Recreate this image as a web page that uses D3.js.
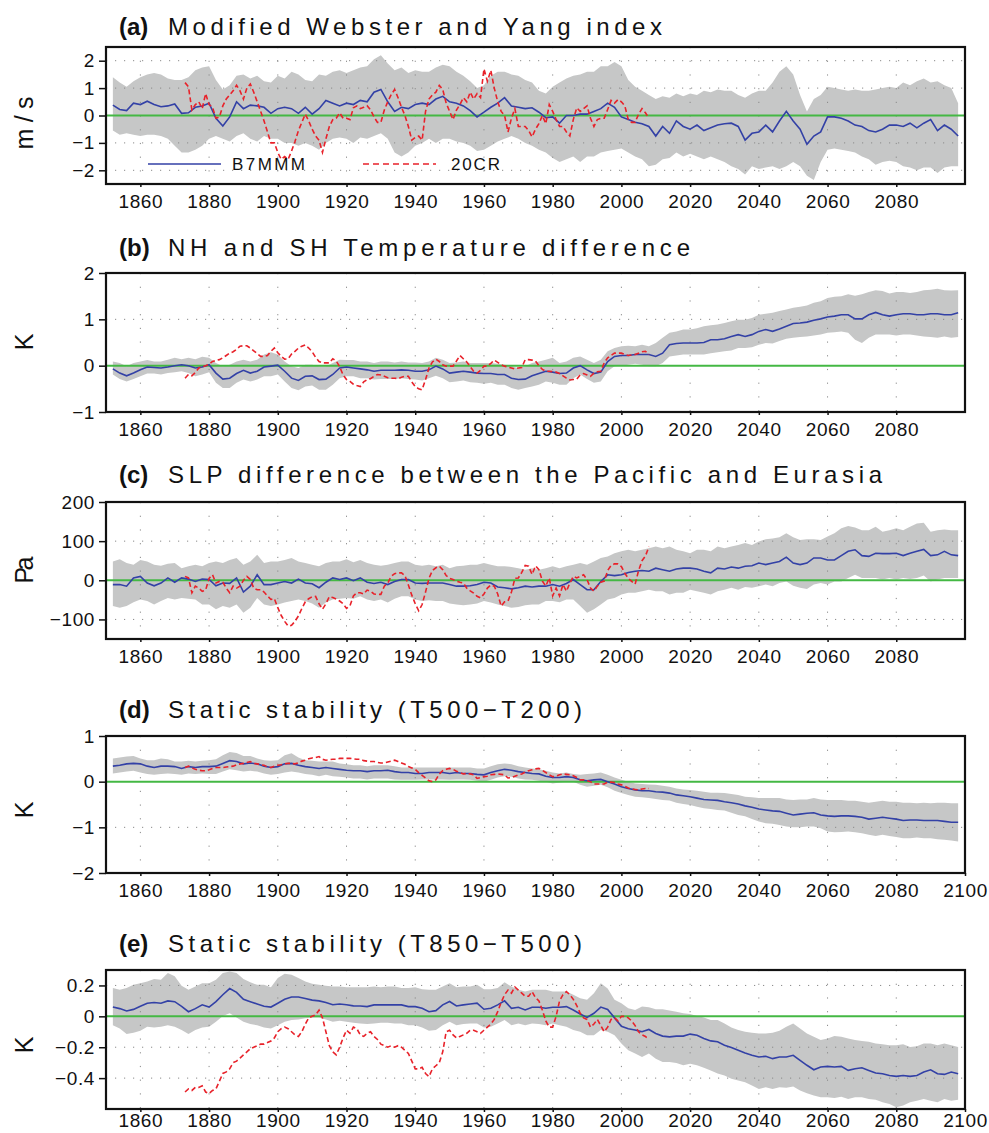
<!DOCTYPE html>
<html><head><meta charset="utf-8">
<script src="https://cdn.jsdelivr.net/npm/d3@7"></script>
<style>body{margin:0;background:#fff}text{font-family:"Liberation Sans",Arial,sans-serif}</style>
</head><body>
<svg id="c" width="989" height="1133"></svg>
<script>
// ---------------- DATA ----------------
const modelYears = d3.range(1852, 2099, 2);   // B7MMM ensemble (2-yr sampling)
const obsYears = d3.range(1873, 2009);        // 20CR

const xTicksShort = [1860,1880,1900,1920,1940,1960,1980,2000,2020,2040,2060,2080];
const xTicksLong  = [1860,1880,1900,1920,1940,1960,1980,2000,2020,2040,2060,2080,2100];

// (a) Modified Webster and Yang index (m/s)
const aMean = [0.38,0.22,0.18,0.45,0.4,0.52,0.4,0.32,0.35,0.42,
 0.08,0.1,0.3,0.35,0.45,-0.1,-0.38,-0.05,0.5,0.25,
 0.38,0.35,0.3,0.08,0.25,0.3,0.25,0.08,0.3,0.05,
 0.25,0.55,0.45,0.35,0.45,0.4,0.55,0.5,0.85,0.95,
 0.5,0.15,0.3,0.25,0.4,0.45,0.4,0.6,0.7,0.5,
 0.45,0.35,0.18,-0.05,0.12,0.3,0.45,0.65,0.35,0.3,
 0.25,0.28,0.12,-0.08,-0.05,-0.28,0.0,0.0,0.05,0.05,
 0.15,0.25,0.45,0.3,-0.05,-0.15,-0.25,-0.3,-0.4,-0.75,
 -0.4,-0.65,-0.2,-0.4,-0.5,-0.35,-0.55,-0.45,-0.35,-0.3,
 -0.28,-0.4,-0.9,-0.65,-0.6,-0.35,-0.6,-0.2,0.15,-0.2,
 -0.5,-1.05,-0.75,-0.6,-0.05,-0.05,-0.1,-0.2,-0.35,-0.4,
 -0.55,-0.6,-0.5,-0.35,-0.35,-0.4,-0.28,-0.45,-0.28,-0.15,
 -0.55,-0.35,-0.5,-0.75];
const aUpper = [1.4,1.2,1.05,1.25,1.4,1.5,1.55,1.5,1.35,1.3,
 1.3,1.4,1.65,1.75,1.8,1.3,0.95,1.1,1.45,1.5,
 1.35,1.45,1.25,1.2,1.45,1.35,1.6,1.5,1.3,1.25,
 1.5,1.45,1.6,1.65,1.55,1.65,1.75,1.8,2.05,2.2,
 1.9,1.65,1.75,1.55,1.65,1.6,1.6,1.75,1.85,1.8,
 1.6,1.45,1.25,1.0,1.1,1.45,1.6,1.6,1.5,1.45,
 1.3,1.2,0.9,0.8,1.05,1.2,1.35,1.45,1.5,1.6,
 1.6,1.8,1.8,1.95,1.8,1.3,1.05,0.9,0.75,0.6,
 0.7,0.65,0.8,0.7,0.8,0.75,0.9,0.85,0.95,0.9,
 0.9,0.75,0.65,0.8,0.9,0.9,1.2,1.6,1.8,1.5,
 0.75,0.15,0.6,0.75,1.05,1.0,0.95,0.9,0.95,0.9,
 0.9,0.95,1.0,1.05,1.0,1.2,1.1,1.25,1.35,1.2,
 1.25,1.1,1.0,0.45];
const aLower = [-0.55,-0.7,-0.65,-0.7,-0.75,-0.7,-0.7,-0.75,-0.85,-1.1,
 -1.35,-1.35,-1.25,-1.1,-0.85,-0.75,-0.85,-0.95,-0.75,-0.65,
 -0.85,-0.95,-0.75,-0.85,-0.85,-1.0,-1.0,-1.1,-1.0,-1.1,
 -1.25,-1.0,-0.85,-0.8,-0.85,-1.0,-0.8,-0.85,-0.75,-0.65,
 -0.85,-1.35,-1.5,-1.35,-1.1,-1.0,-0.85,-1.0,-0.85,-0.85,
 -0.95,-1.0,-1.1,-1.3,-1.25,-1.1,-0.95,-0.85,-0.75,-0.85,
 -1.0,-1.1,-1.25,-1.35,-1.55,-1.7,-1.6,-1.5,-1.7,-1.5,
 -1.5,-1.35,-1.3,-1.25,-1.2,-1.35,-1.5,-1.6,-1.85,-1.8,
 -1.6,-1.55,-1.35,-1.5,-1.4,-1.5,-1.6,-1.5,-1.6,-1.7,
 -1.85,-1.95,-2.15,-1.85,-1.95,-1.9,-1.85,-1.95,-1.85,-1.7,
 -1.85,-2.2,-2.35,-1.7,-1.25,-1.2,-1.25,-1.3,-1.35,-1.5,
 -1.6,-1.8,-1.7,-1.65,-1.7,-1.85,-1.9,-2.0,-1.9,-1.9,
 -2.1,-1.9,-1.85,-1.85];
const aObs = [1.2,1.05,0.2,0.4,0.5,0.25,0.8,0.4,0.3,-0.1,
 -0.05,0.35,0.6,0.75,0.9,1.1,0.9,0.6,1.0,1.15,
 0.85,0.5,0.15,-0.2,-0.6,-1.0,-1.0,-1.35,-1.6,-1.5,
 -1.6,-1.3,-0.95,-0.55,-0.25,0.05,-0.2,-0.5,-0.75,-0.9,
 -1.35,-0.85,-0.4,-0.15,-0.1,0.1,-0.1,-0.1,-0.15,0.28,
 0.35,0.25,0.3,0.36,0.2,-0.05,-0.25,-0.25,0.2,0.5,
 0.76,0.95,0.65,0.3,0.0,-0.4,-0.9,-0.8,-0.75,-0.9,
 0.15,0.6,0.75,0.85,1.1,0.95,0.45,0.15,-0.15,0.2,
 0.4,0.65,0.5,0.85,0.6,0.8,0.65,1.7,1.25,1.65,
 1.0,0.5,0.15,0.0,-0.6,-0.1,0.25,-0.4,-0.4,-0.4,
 -0.55,-0.78,-0.5,-0.3,0.0,-0.3,0.4,0.15,-0.15,-0.4,
 -0.4,-0.6,-0.75,-0.15,0.28,0.15,0.25,0.35,-0.1,-0.4,
 -0.15,-0.1,-0.1,0.22,0.55,0.45,0.58,0.5,0.35,-0.15,
 -0.25,-0.25,0.05,0.25,0.1,-0.1];

// (b) NH and SH temperature difference (K)
const bMean = [-0.07,-0.16,-0.22,-0.16,-0.09,-0.03,-0.04,-0.05,-0.03,0.0,
 0.02,0.0,-0.05,-0.03,0.02,-0.16,-0.29,-0.27,-0.17,-0.1,
 -0.16,-0.12,-0.03,-0.01,0.01,-0.12,-0.27,-0.32,-0.23,-0.22,
 -0.3,-0.29,-0.19,-0.05,-0.03,-0.05,-0.07,-0.09,-0.12,-0.1,
 -0.1,-0.1,-0.09,-0.1,-0.12,-0.12,-0.09,-0.01,-0.07,-0.16,
 -0.14,-0.12,-0.14,-0.16,-0.17,-0.17,-0.19,-0.19,-0.27,-0.3,
 -0.29,-0.22,-0.17,-0.12,-0.14,-0.17,-0.16,-0.05,0.0,-0.09,
 -0.17,-0.14,0.09,0.2,0.22,0.22,0.24,0.24,0.24,0.2,
 0.27,0.45,0.48,0.49,0.49,0.49,0.5,0.56,0.56,0.58,
 0.63,0.67,0.63,0.67,0.74,0.78,0.74,0.79,0.85,0.91,
 0.92,0.94,0.98,1.01,1.05,1.07,1.1,1.1,1.01,1.01,
 1.1,1.15,1.1,1.07,1.1,1.12,1.12,1.1,1.1,1.12,
 1.12,1.1,1.1,1.14];
const bUpper = [0.09,0.06,-0.01,0.06,0.09,0.12,0.09,0.09,0.13,0.17,
 0.14,0.17,0.14,0.19,0.17,0.06,-0.01,0.02,0.09,0.13,
 0.09,0.13,0.24,0.29,0.24,0.09,-0.01,-0.05,0.02,0.02,
 -0.01,-0.01,0.06,0.13,0.12,0.12,0.09,0.09,0.06,0.09,
 0.09,0.07,0.09,0.07,0.07,0.06,0.09,0.17,0.13,0.06,
 0.07,0.09,0.06,0.06,0.06,0.06,0.04,0.02,-0.01,-0.05,
 -0.01,0.06,0.09,0.13,0.17,0.06,0.09,0.17,0.2,0.13,
 0.06,0.13,0.31,0.38,0.42,0.43,0.42,0.45,0.42,0.49,
 0.6,0.71,0.74,0.78,0.78,0.81,0.85,0.87,0.89,0.92,
 0.96,0.99,0.99,1.03,1.1,1.12,1.14,1.18,1.21,1.25,
 1.27,1.3,1.36,1.39,1.46,1.49,1.5,1.54,1.51,1.54,
 1.59,1.63,1.61,1.56,1.59,1.59,1.57,1.59,1.63,1.64,
 1.66,1.63,1.62,1.63];
const bLower = [-0.19,-0.29,-0.34,-0.29,-0.23,-0.17,-0.17,-0.19,-0.16,-0.14,
 -0.12,-0.16,-0.23,-0.19,-0.14,-0.37,-0.48,-0.48,-0.37,-0.3,
 -0.34,-0.3,-0.23,-0.23,-0.19,-0.34,-0.48,-0.53,-0.45,-0.43,
 -0.52,-0.52,-0.41,-0.27,-0.23,-0.23,-0.27,-0.27,-0.3,-0.29,
 -0.29,-0.29,-0.27,-0.29,-0.3,-0.32,-0.27,-0.22,-0.27,-0.36,
 -0.34,-0.32,-0.36,-0.37,-0.39,-0.37,-0.41,-0.41,-0.48,-0.52,
 -0.48,-0.45,-0.41,-0.34,-0.37,-0.41,-0.41,-0.27,-0.19,-0.29,
 -0.37,-0.34,-0.12,-0.01,0.0,0.02,0.04,0.02,-0.01,-0.01,
 0.06,0.2,0.22,0.24,0.24,0.24,0.24,0.27,0.29,0.31,
 0.33,0.38,0.38,0.4,0.45,0.49,0.48,0.53,0.58,0.6,
 0.62,0.63,0.65,0.67,0.71,0.72,0.74,0.71,0.56,0.49,
 0.6,0.67,0.67,0.67,0.65,0.67,0.67,0.65,0.63,0.62,
 0.6,0.63,0.6,0.62];
const bObs = [-0.27,-0.19,-0.22,-0.15,-0.05,-0.03,0.0,0.03,0.09,0.11,
 0.13,0.17,0.22,0.27,0.3,0.35,0.42,0.43,0.43,0.38,
 0.32,0.26,0.2,0.2,0.22,0.31,0.38,0.28,0.2,0.14,
 0.15,0.25,0.31,0.38,0.42,0.45,0.38,0.3,0.18,0.09,
 0.06,0.06,0.06,0.15,0.1,-0.02,-0.2,-0.3,-0.34,-0.4,
 -0.43,-0.45,-0.35,-0.3,-0.28,-0.23,-0.19,-0.2,-0.23,-0.26,
 -0.27,-0.27,-0.28,-0.25,-0.23,-0.23,-0.35,-0.45,-0.5,-0.52,
 -0.3,-0.05,0.08,0.14,0.09,0.02,-0.01,-0.01,-0.01,0.1,
 0.22,0.15,0.08,-0.02,-0.12,-0.16,-0.1,-0.01,-0.01,0.05,
 0.12,0.07,0.02,-0.01,-0.03,-0.05,-0.07,-0.05,-0.04,0.13,
 0.13,0.12,0.1,0.0,-0.08,-0.12,-0.12,-0.13,-0.14,-0.17,
 -0.22,-0.27,-0.31,-0.3,-0.29,-0.2,-0.17,-0.2,-0.23,-0.16,
 -0.13,-0.12,0.06,0.17,0.22,0.27,0.27,0.27,0.24,0.22,
 0.23,0.24,0.27,0.3,0.31,0.24];

// (c) SLP difference between the Pacific and Eurasia (Pa)
const cMean = [-11,-11,-15,6,10,-7,-14,-7,6,-5,
 6,3,-3,3,2,-14,-7,-8,6,-30,
 -15,14,-11,-11,-7,-3,-7,3,-7,-9,
 -19,-5,6,2,6,-1,6,-5,-8,-5,
 -11,-3,2,2,-7,-8,-7,-7,-7,-11,
 -15,-15,-14,-11,-5,-7,-17,-19,-22,-19,
 -15,-17,-15,-15,-11,-15,-8,2,-11,-24,
 -24,-3,14,12,14,20,23,25,23,31,
 27,23,29,31,31,29,23,19,31,29,
 34,31,36,37,44,40,44,48,59,44,
 40,44,57,57,52,52,63,74,78,63,
 61,69,68,68,69,63,69,74,79,63,
 65,74,65,63];
const cUpper = [48,54,44,40,52,48,40,37,42,44,
 31,36,40,36,44,48,44,52,57,40,
 48,65,44,48,48,52,57,48,44,40,
 36,44,48,48,54,46,52,44,40,37,
 40,44,48,48,40,37,40,36,40,31,
 36,37,40,40,44,40,36,36,34,31,
 27,31,27,31,36,31,36,40,44,40,
 48,57,61,69,74,78,74,78,82,86,
 82,86,78,74,69,78,78,74,86,82,
 86,90,95,90,99,105,107,110,120,110,
 103,105,105,103,112,120,133,139,135,128,
 128,137,124,128,133,128,137,145,147,124,
 128,130,128,128];
const cLower = [-66,-70,-66,-56,-49,-53,-62,-53,-45,-49,
 -45,-47,-49,-62,-62,-74,-66,-70,-62,-83,
 -70,-45,-62,-66,-62,-57,-53,-49,-53,-59,
 -70,-57,-49,-47,-45,-47,-41,-49,-53,-49,
 -57,-47,-41,-41,-49,-53,-51,-53,-53,-59,
 -62,-64,-62,-59,-53,-57,-62,-66,-70,-68,
 -64,-62,-62,-53,-53,-56,-49,-49,-66,-83,
 -74,-62,-49,-45,-36,-32,-32,-28,-24,-28,
 -28,-36,-32,-32,-24,-28,-32,-36,-28,-24,
 -19,-24,-17,-19,-15,-11,-15,-7,-3,-14,
 -19,-22,-11,-7,-11,-3,-3,6,14,6,
 6,6,2,6,2,6,3,6,12,-3,
 2,6,6,6];
const cObs = [10,6,-32,-15,-20,-28,-25,5,14,-7,
 -3,-5,-20,-32,-15,-20,-15,0,10,2,
 -20,-24,-24,-30,-40,-49,-47,-70,-90,-105,
 -117,-115,-105,-91,-72,-55,-47,-42,-41,-60,
 -74,-60,-42,-44,-48,-53,-60,-72,-65,-40,
 -32,-32,-35,-25,-28,-35,-36,-36,-15,-7,
 10,17,19,19,12,-12,-38,-60,-78,-62,
 -30,5,25,32,36,27,12,5,2,-2,
 -5,-7,-20,-27,-33,-41,-45,-35,-20,-12,
 -15,-35,-66,-55,-53,-30,5,6,20,38,
 36,15,37,27,-2,-15,6,-40,-20,-40,
 -11,-28,-7,10,6,10,14,2,-20,-28,
 -15,-5,-2,25,38,42,42,35,18,5,
 -3,-10,25,50,62,86];

// (d) Static stability (T500-T200) (K)
const dMean = [0.34,0.36,0.39,0.4,0.39,0.34,0.31,0.34,0.34,0.33,
 0.29,0.33,0.31,0.33,0.33,0.34,0.4,0.46,0.44,0.39,
 0.41,0.39,0.34,0.31,0.33,0.39,0.4,0.36,0.33,0.31,
 0.29,0.31,0.29,0.27,0.25,0.24,0.24,0.22,0.24,0.24,
 0.25,0.22,0.2,0.2,0.18,0.18,0.2,0.2,0.2,0.18,
 0.2,0.18,0.18,0.16,0.15,0.2,0.24,0.27,0.25,0.22,
 0.2,0.18,0.17,0.12,0.09,0.09,0.11,0.09,0.04,0.02,
 0.04,0.05,0.0,-0.05,-0.11,-0.15,-0.18,-0.2,-0.2,-0.22,
 -0.23,-0.25,-0.29,-0.31,-0.33,-0.36,-0.39,-0.4,-0.41,-0.44,
 -0.46,-0.49,-0.53,-0.56,-0.6,-0.62,-0.64,-0.65,-0.69,-0.73,
 -0.71,-0.69,-0.68,-0.73,-0.75,-0.76,-0.75,-0.75,-0.76,-0.78,
 -0.82,-0.8,-0.78,-0.8,-0.82,-0.85,-0.84,-0.84,-0.85,-0.85,
 -0.85,-0.87,-0.89,-0.89];
const dUpper = [0.51,0.53,0.55,0.56,0.51,0.47,0.47,0.51,0.49,0.44,
 0.44,0.46,0.44,0.46,0.47,0.49,0.58,0.65,0.63,0.56,
 0.56,0.51,0.47,0.46,0.47,0.58,0.62,0.53,0.47,0.46,
 0.44,0.44,0.44,0.4,0.38,0.36,0.36,0.34,0.36,0.36,
 0.36,0.34,0.31,0.31,0.31,0.31,0.31,0.31,0.31,0.31,
 0.31,0.31,0.31,0.29,0.29,0.34,0.38,0.4,0.38,0.34,
 0.31,0.29,0.27,0.24,0.2,0.18,0.2,0.17,0.15,0.17,
 0.18,0.2,0.15,0.09,0.04,0.0,-0.04,-0.05,-0.06,-0.07,
 -0.09,-0.11,-0.15,-0.17,-0.18,-0.2,-0.22,-0.24,-0.24,-0.25,
 -0.27,-0.29,-0.33,-0.34,-0.36,-0.36,-0.36,-0.36,-0.39,-0.4,
 -0.39,-0.39,-0.36,-0.39,-0.4,-0.4,-0.4,-0.42,-0.42,-0.44,
 -0.46,-0.44,-0.42,-0.44,-0.44,-0.46,-0.46,-0.47,-0.46,-0.47,
 -0.46,-0.46,-0.47,-0.47];
const dLower = [0.18,0.2,0.22,0.24,0.2,0.17,0.15,0.17,0.18,0.17,
 0.15,0.18,0.17,0.18,0.17,0.17,0.22,0.27,0.25,0.22,
 0.24,0.22,0.18,0.15,0.17,0.2,0.22,0.2,0.17,0.15,
 0.12,0.15,0.12,0.11,0.09,0.07,0.07,0.05,0.07,0.07,
 0.07,0.05,0.04,0.04,0.04,0.05,0.05,0.05,0.05,0.04,
 0.05,0.05,0.04,0.02,0.0,0.04,0.09,0.12,0.11,0.07,
 0.05,0.04,0.02,0.0,-0.04,-0.02,0.0,0.0,-0.07,-0.11,
 -0.09,-0.07,-0.12,-0.2,-0.25,-0.29,-0.33,-0.34,-0.36,-0.38,
 -0.4,-0.41,-0.46,-0.49,-0.51,-0.55,-0.58,-0.6,-0.62,-0.63,
 -0.68,-0.73,-0.76,-0.82,-0.87,-0.91,-0.92,-0.95,-0.98,-1.0,
 -1.0,-0.98,-0.98,-1.02,-1.09,-1.11,-1.1,-1.09,-1.11,-1.13,
 -1.16,-1.19,-1.16,-1.19,-1.21,-1.24,-1.24,-1.22,-1.24,-1.24,
 -1.26,-1.27,-1.29,-1.31];
const dObs = [0.31,0.34,0.3,0.27,0.25,0.24,0.24,0.26,0.29,0.31,
 0.31,0.31,0.32,0.33,0.34,0.37,0.39,0.4,0.42,0.44,
 0.4,0.39,0.37,0.36,0.32,0.31,0.34,0.36,0.37,0.39,
 0.4,0.4,0.39,0.41,0.45,0.47,0.5,0.52,0.53,0.55,
 0.49,0.47,0.48,0.49,0.49,0.51,0.51,0.51,0.51,0.5,
 0.49,0.49,0.46,0.45,0.44,0.44,0.42,0.41,0.41,0.43,
 0.45,0.47,0.44,0.41,0.38,0.33,0.3,0.27,0.2,0.14,
 0.08,0.02,0.0,0.04,0.17,0.24,0.27,0.29,0.27,0.23,
 0.2,0.17,0.18,0.17,0.15,0.07,0.09,0.11,0.12,0.15,
 0.16,0.17,0.16,0.15,0.08,0.09,0.12,0.15,0.17,0.21,
 0.24,0.26,0.28,0.29,0.25,0.2,0.15,0.11,0.12,0.15,
 0.17,0.16,0.15,0.13,0.09,0.04,0.04,0.02,0.0,-0.05,
 -0.05,-0.05,-0.05,-0.01,-0.01,-0.02,-0.05,-0.07,-0.1,-0.14,
 -0.16,-0.17,-0.18,-0.16,-0.15,-0.15];

// (e) Static stability (T850-T500) (K)
const eMean = [0.06,0.05,0.035,0.045,0.065,0.085,0.09,0.085,0.1,0.095,
 0.065,0.03,0.05,0.075,0.06,0.095,0.14,0.18,0.155,0.11,
 0.095,0.08,0.065,0.06,0.085,0.11,0.125,0.125,0.115,0.105,
 0.1,0.09,0.075,0.08,0.075,0.068,0.067,0.063,0.074,0.074,
 0.074,0.074,0.074,0.063,0.063,0.052,0.03,0.037,0.074,0.096,
 0.067,0.074,0.08,0.085,0.046,0.052,0.074,0.1,0.052,0.059,
 0.041,0.059,0.059,0.052,0.059,0.059,0.063,0.041,0.015,-0.007,
 0.02,0.06,0.045,-0.01,-0.065,-0.08,-0.089,-0.1,-0.085,-0.111,
 -0.128,-0.133,-0.128,-0.128,-0.115,-0.122,-0.143,-0.159,-0.165,-0.187,
 -0.202,-0.22,-0.237,-0.252,-0.263,-0.259,-0.274,-0.263,-0.263,-0.252,
 -0.285,-0.317,-0.346,-0.328,-0.324,-0.328,-0.324,-0.35,-0.339,-0.333,
 -0.35,-0.367,-0.372,-0.383,-0.389,-0.383,-0.389,-0.383,-0.361,-0.346,
 -0.372,-0.376,-0.361,-0.372];
const eUpper = [0.183,0.172,0.183,0.204,0.215,0.226,0.241,0.237,0.28,0.259,
 0.198,0.172,0.193,0.215,0.215,0.237,0.28,0.291,0.28,0.241,
 0.22,0.204,0.204,0.189,0.248,0.276,0.27,0.248,0.226,0.211,
 0.204,0.198,0.193,0.193,0.189,0.189,0.189,0.189,0.193,0.189,
 0.193,0.193,0.183,0.183,0.189,0.176,0.172,0.172,0.193,0.215,
 0.189,0.193,0.193,0.204,0.176,0.176,0.183,0.22,0.193,0.172,
 0.161,0.172,0.172,0.172,0.161,0.161,0.161,0.139,0.117,0.107,
 0.15,0.215,0.18,0.107,0.085,0.052,0.041,0.063,0.059,0.046,
 0.046,0.037,0.03,0.02,0.015,0.002,-0.007,-0.024,-0.024,-0.046,
 -0.072,-0.089,-0.1,-0.107,-0.111,-0.111,-0.107,-0.093,-0.067,-0.046,
 -0.078,-0.111,-0.133,-0.154,-0.143,-0.128,-0.133,-0.143,-0.154,-0.159,
 -0.165,-0.176,-0.18,-0.187,-0.187,-0.18,-0.198,-0.193,-0.176,-0.176,
 -0.187,-0.176,-0.187,-0.198];
const eLower = [-0.057,-0.078,-0.115,-0.107,-0.093,-0.067,-0.072,-0.067,-0.057,-0.067,
 -0.089,-0.115,-0.089,-0.072,-0.067,-0.035,0.002,0.02,-0.007,-0.035,
 -0.05,-0.057,-0.072,-0.078,-0.057,-0.035,-0.024,-0.02,-0.013,-0.007,
 -0.007,-0.02,-0.035,-0.028,-0.035,-0.041,-0.046,-0.05,-0.046,-0.041,
 -0.041,-0.046,-0.046,-0.057,-0.057,-0.072,-0.093,-0.089,-0.057,-0.035,
 -0.057,-0.05,-0.046,-0.046,-0.072,-0.067,-0.046,-0.024,-0.057,-0.046,
 -0.057,-0.046,-0.05,-0.057,-0.046,-0.057,-0.067,-0.089,-0.1,-0.122,
 -0.122,-0.089,-0.1,-0.122,-0.176,-0.22,-0.241,-0.263,-0.241,-0.274,
 -0.296,-0.296,-0.302,-0.317,-0.307,-0.317,-0.333,-0.35,-0.37,-0.383,
 -0.404,-0.415,-0.426,-0.448,-0.47,-0.459,-0.47,-0.459,-0.463,-0.454,
 -0.48,-0.498,-0.513,-0.524,-0.524,-0.528,-0.52,-0.535,-0.524,-0.524,
 -0.535,-0.54,-0.557,-0.567,-0.589,-0.578,-0.557,-0.546,-0.535,-0.546,
 -0.557,-0.535,-0.546,-0.54];
const eObs = [-0.49,-0.47,-0.48,-0.46,-0.46,-0.45,-0.49,-0.5,-0.48,-0.47,
 -0.42,-0.37,-0.36,-0.34,-0.3,-0.29,-0.27,-0.25,-0.23,-0.21,
 -0.2,-0.19,-0.18,-0.18,-0.17,-0.16,-0.14,-0.1,-0.08,-0.07,
 -0.08,-0.1,-0.12,-0.13,-0.1,-0.05,-0.01,0.0,0.01,0.04,
 -0.01,-0.1,-0.19,-0.23,-0.25,-0.2,-0.14,-0.09,-0.11,-0.07,
 -0.08,-0.12,-0.13,-0.11,-0.1,-0.13,-0.15,-0.18,-0.19,-0.2,
 -0.19,-0.2,-0.19,-0.2,-0.22,-0.24,-0.29,-0.34,-0.34,-0.33,
 -0.37,-0.39,-0.34,-0.32,-0.3,-0.23,-0.1,-0.09,-0.12,-0.14,
 -0.13,-0.12,-0.11,-0.09,-0.09,-0.1,-0.11,-0.09,-0.07,-0.05,
 -0.02,0.03,0.09,0.14,0.17,0.15,0.19,0.17,0.15,0.13,
 0.13,0.16,0.12,0.1,0.04,-0.03,-0.07,-0.07,0.0,0.1,
 0.14,0.16,0.14,0.11,0.07,0.02,-0.01,-0.02,-0.07,-0.05,
 -0.02,-0.06,-0.1,-0.07,-0.02,-0.01,-0.03,0.0,0.0,-0.01,
 -0.03,-0.06,-0.1,-0.12,-0.13,-0.15];

// ---------------- LAYOUT / CONFIG ----------------
const panels = [
 {label:"(a)", title:"Modified Webster and Yang index", unit:"m/s", unitLen:53, unitY:123,
  top:47, bottom:184, titleY:35, titleEnd:662, domain:[-2.5,2.5], yTicks:[-2,-1,0,1,2],
  xTicks:xTicksShort, xPad:8, mean:aMean, upper:aUpper, lower:aLower, obs:aObs, legend:true},
 {label:"(b)", title:"NH and SH Temperature difference", unit:"K", unitLen:0, unitY:342,
  top:273, bottom:412, titleY:256, titleEnd:690, domain:[-1,2], yTicks:[-1,0,1,2],
  xTicks:xTicksShort, xPad:8, mean:bMean, upper:bUpper, lower:bLower, obs:bObs},
 {label:"(c)", title:"SLP difference between the Pacific and Eurasia", unit:"Pa", unitLen:27, unitY:570,
  top:502, bottom:639, titleY:483, titleEnd:882, domain:[-150,200], yTicks:[-100,0,100,200],
  xTicks:xTicksShort, xPad:8, mean:cMean, upper:cUpper, lower:cLower, obs:cObs},
 {label:"(d)", title:"Static stability (T500\u2212T200)", unit:"K", unitLen:0, unitY:810,
  top:736, bottom:873, titleY:718, titleEnd:582, domain:[-2,1], yTicks:[-2,-1,0,1],
  xTicks:xTicksLong, xPad:8, mean:dMean, upper:dUpper, lower:dLower, obs:dObs},
 {label:"(e)", title:"Static stability (T850\u2212T500)", unit:"K", unitLen:0, unitY:1045,
  top:970, bottom:1109, titleY:952, titleEnd:582, domain:[-0.6,0.3], yTicks:[-0.4,-0.2,0,0.2],
  xTicks:xTicksLong, xPad:2, mean:eMean, upper:eUpper, lower:eLower, obs:eObs}
];

const COL = {band:"#c6c7c7", blue:"#3341a6", red:"#e8222a", green:"#44b844", grid:"#8a8a8a"};
const L = 106, R = 965;
const svg = d3.select("#c");
const x = d3.scaleLinear().domain([1850, 2100]).range([L, R]);
const fmt = v => (v === 0 ? "0" : String(v)).replace("-", "\u2212");

panels.forEach(p => {
  const y = d3.scaleLinear().domain(p.domain).range([p.bottom, p.top]);
  const g = svg.append("g");
  const model = modelYears.map((yr, i) => ({yr, m:p.mean[i], lo:p.lower[i], hi:p.upper[i]}));
  const obs = obsYears.map((yr, i) => ({yr, v:p.obs[i]}));

  // spread band
  g.append("path").datum(model)
    .attr("d", d3.area().x(d => x(d.yr)).y0(d => y(d.lo)).y1(d => y(d.hi)))
    .attr("fill", COL.band);

  // dotted grid
  g.append("g").selectAll("line").data(p.xTicks.filter(t => t < 2100)).join("line")
    .attr("x1", d => x(d)).attr("x2", d => x(d)).attr("y1", p.top).attr("y2", p.bottom)
    .attr("stroke", COL.grid).attr("stroke-width", 1).attr("stroke-dasharray", "1.2,12.5");
  g.append("g").selectAll("line").data(p.yTicks.filter(t => t !== 0 && y(t) > p.top + 1 && y(t) < p.bottom - 1)).join("line")
    .attr("x1", L).attr("x2", R).attr("y1", d => y(d)).attr("y2", d => y(d))
    .attr("stroke", COL.grid).attr("stroke-width", 1).attr("stroke-dasharray", "1.2,7.8");

  // zero line
  g.append("line").attr("x1", L).attr("x2", R).attr("y1", y(0)).attr("y2", y(0))
    .attr("stroke", COL.green).attr("stroke-width", 2);

  // ensemble mean
  g.append("path").datum(model)
    .attr("d", d3.line().x(d => x(d.yr)).y(d => y(d.m)))
    .attr("fill", "none").attr("stroke", COL.blue).attr("stroke-width", 1.6);

  // 20CR
  g.append("path").datum(obs)
    .attr("d", d3.line().x(d => x(d.yr)).y(d => y(d.v)))
    .attr("fill", "none").attr("stroke", COL.red).attr("stroke-width", 1.6)
    .attr("stroke-dasharray", "5,3");

  // frame
  g.append("rect").attr("x", L).attr("y", p.top).attr("width", R - L).attr("height", p.bottom - p.top)
    .attr("fill", "none").attr("stroke", "#111").attr("stroke-width", 2.2);

  // axes
  const ya = g.append("g").attr("transform", `translate(${L},0)`)
    .call(d3.axisLeft(y).tickValues(p.yTicks).tickSize(7).tickPadding(4).tickFormat(fmt));
  const xa = g.append("g").attr("transform", `translate(0,${p.bottom})`)
    .call(d3.axisBottom(x).tickValues(p.xTicks).tickSize(3).tickPadding(p.xPad).tickFormat(d3.format("d")));
  [ya, xa].forEach(a => {
    a.select(".domain").remove();
    a.selectAll("line").attr("stroke", "#111").attr("stroke-width", 1.5);
    a.selectAll("text").attr("font-size", 19).attr("fill", "#111")
      .style("font-family", '"Liberation Sans",Arial,sans-serif').attr("letter-spacing", 0.6);
  });

  // title
  svg.append("text").attr("x", 119).attr("y", p.titleY).attr("font-size", 24)
    .attr("font-weight", "bold").attr("fill", "#111").text(p.label);
  svg.append("text").attr("x", 168).attr("y", p.titleY).attr("font-size", 24).attr("fill", "#111")
    .attr("textLength", p.titleEnd - 168).attr("lengthAdjust", "spacing").text(p.title);

  // unit label
  const u = svg.append("text").attr("transform", `translate(33,${p.unitY}) rotate(-90)`)
    .attr("text-anchor", "middle").attr("font-size", 25).attr("fill", "#111").text(p.unit);
  if (p.unitLen) u.attr("textLength", p.unitLen).attr("lengthAdjust", "spacing");

  // legend
  if (p.legend) {
    const ly = 164;
    svg.append("line").attr("x1", 148).attr("x2", 221).attr("y1", ly).attr("y2", ly)
      .attr("stroke", COL.blue).attr("stroke-width", 1.6);
    svg.append("text").attr("x", 232).attr("y", 170).attr("font-size", 17).attr("fill", "#111")
      .attr("textLength", 73).attr("lengthAdjust", "spacing").text("B7MMM");
    svg.append("line").attr("x1", 363).attr("x2", 436).attr("y1", ly).attr("y2", ly)
      .attr("stroke", COL.red).attr("stroke-width", 1.6).attr("stroke-dasharray", "6,4");
    svg.append("text").attr("x", 451).attr("y", 170).attr("font-size", 17).attr("fill", "#111")
      .attr("textLength", 49).attr("lengthAdjust", "spacing").text("20CR");
  }
});
</script>
</body></html>
